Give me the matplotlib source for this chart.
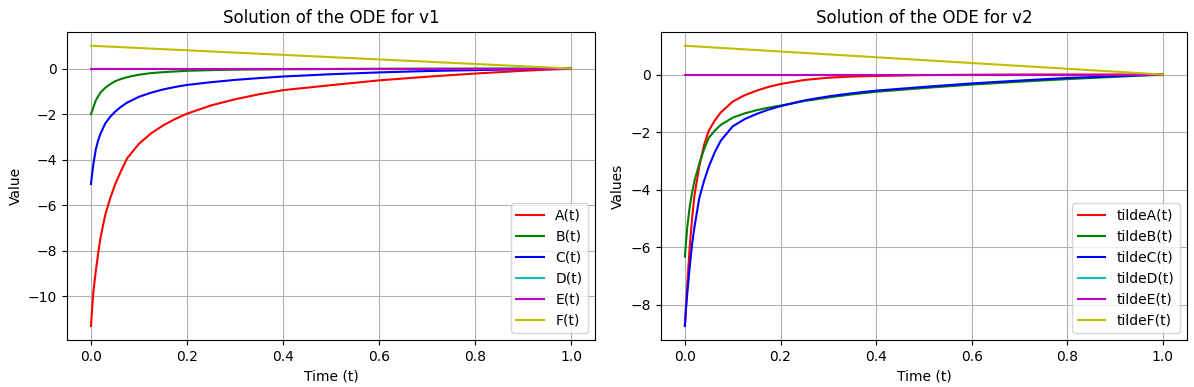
import numpy as np
import matplotlib
matplotlib.use("Agg")
import matplotlib.pyplot as plt

# time samples
t = [0, 0.0025, 0.005, 0.01, 0.015, 0.02, 0.03, 0.04, 0.05, 0.0625, 0.075,
     0.1, 0.125, 0.15, 0.175, 0.2, 0.25, 0.3, 0.35, 0.4,
     0.5, 0.6, 0.7, 0.8, 0.9, 1.0]

# v1 solution
A = [-11.3, -10.5, -9.8, -8.9, -8.1, -7.4, -6.4, -5.7, -5.1, -4.5, -3.95,
     -3.3, -2.85, -2.5, -2.22, -1.98, -1.62, -1.35, -1.13, -0.95,
     -0.73, -0.52, -0.36, -0.22, -0.1, 0.0]
B = [-2.0, -1.85, -1.7, -1.4, -1.22, -1.05, -0.84, -0.69, -0.56, -0.46, -0.38,
     -0.27, -0.2, -0.16, -0.13, -0.1, -0.07, -0.05, -0.04, -0.03,
     -0.02, -0.01, -0.005, 0.0, 0.0, 0.0]
C = [-5.07, -4.6, -4.2, -3.55, -3.15, -2.85, -2.4, -2.12, -1.9, -1.68, -1.5,
     -1.24, -1.06, -0.92, -0.81, -0.72, -0.6, -0.5, -0.42, -0.35,
     -0.25, -0.17, -0.11, -0.07, -0.03, 0.0]
D = [0.0] * len(t)
E = [0.0] * len(t)
F = [1.0, 0.9975, 0.995, 0.99, 0.985, 0.98, 0.97, 0.96, 0.95, 0.9375, 0.925,
     0.9, 0.875, 0.85, 0.825, 0.8, 0.75, 0.7, 0.65, 0.6,
     0.5, 0.4, 0.3, 0.2, 0.1, 0.0]

# v2 solution
tA = [-8.74, -8.0, -7.3, -6.0, -5.0, -4.2, -3.2, -2.45, -1.95, -1.6, -1.32,
      -0.94, -0.72, -0.56, -0.43, -0.33, -0.19, -0.11, -0.07, -0.05,
      -0.02, -0.01, 0.0, 0.0, 0.0, 0.0]
tB = [-6.33, -5.8, -5.3, -4.6, -4.1, -3.7, -3.1, -2.6, -2.2, -1.95, -1.75,
      -1.5, -1.35, -1.24, -1.15, -1.08, -0.92, -0.8, -0.69, -0.6,
      -0.47, -0.35, -0.25, -0.16, -0.08, 0.0]
tC = [-8.74, -8.1, -7.6, -6.7, -5.9, -5.3, -4.3, -3.7, -3.2, -2.7, -2.3,
      -1.8, -1.55, -1.37, -1.22, -1.1, -0.9, -0.76, -0.65, -0.56,
      -0.43, -0.31, -0.21, -0.12, -0.06, 0.0]
tD = [0.0] * len(t)
tE = [0.0] * len(t)
tF = F[:]

colors = ['r', 'g', 'b', 'c', 'm', 'y']
names1 = ['A(t)', 'B(t)', 'C(t)', 'D(t)', 'E(t)', 'F(t)']
names2 = ['tildeA(t)', 'tildeB(t)', 'tildeC(t)', 'tildeD(t)', 'tildeE(t)', 'tildeF(t)']

fig, (ax1, ax2) = plt.subplots(1, 2, figsize=(11.94, 3.87), dpi=100)
ax1.set_position([0.0561, 0.1214, 0.4983 - 0.0561, 0.918 - 0.1214])
ax2.set_position([0.5536, 0.1214, 0.994 - 0.5536, 0.918 - 0.1214])

for y, c, n in zip([A, B, C, D, E, F], colors, names1):
    ax1.plot(t, y, color=c, label=n)
ax1.set_title('Solution of the ODE for v1')
ax1.set_xlabel('Time (t)')
ax1.set_ylabel('Value')
ax1.grid(True)
ax1.legend(loc='lower right')

for y, c, n in zip([tA, tB, tC, tD, tE, tF], colors, names2):
    ax2.plot(t, y, color=c, label=n)
ax2.set_title('Solution of the ODE for v2')
ax2.set_xlabel('Time (t)')
ax2.set_ylabel('Values')
ax2.grid(True)
ax2.legend(loc='lower right')

fig.savefig('out.png', dpi=100)
